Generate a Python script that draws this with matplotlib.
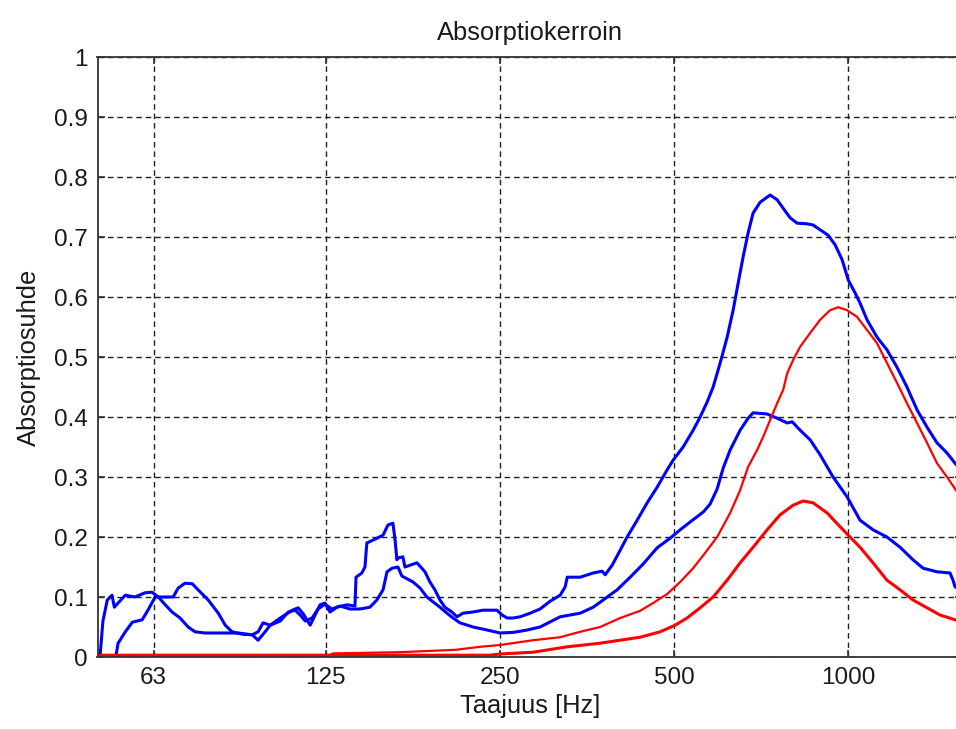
#!/usr/bin/env python

import matplotlib
matplotlib.use('Agg')
import matplotlib.pyplot as plt
from matplotlib.ticker import FixedLocator, NullLocator

# Absorption ratio per frequency, two measured (blue) and two computed (red) curves
freq_b1 = [50.9, 51.5, 52.4, 53.4, 53.9, 54.7, 56.3, 58.5, 60.9, 62.6, 64.2,
           66.0, 67.8, 70.0, 72.3, 74.3, 77.3, 82.8, 88.2, 93.3, 95.5, 98.2,
           100.2, 104.3, 109.4, 112.0, 114.3, 117.5, 119.8, 122.2, 124.6,
           127.1, 130.7, 136.0, 140.4, 141.0, 144.3, 146.1, 147.2, 153.3,
           157.0, 160.1, 163.3, 164.7, 165.9, 166.6, 169.9, 171.3, 179.7,
           185.5, 189.2, 193.0, 196.9, 200.8, 206.5, 210.7, 215.8, 224.6,
           233.7, 247.1, 252.1, 257.3, 263.5, 270.9, 281.9, 293.3, 305.3,
           317.7, 324.1, 326.7, 344.0, 362.3, 375.5, 380.0, 390.7, 403.4,
           414.7, 431.6, 449.1, 467.3, 486.3, 498.0, 518.2, 539.3, 554.5,
           570.2, 584.0, 600.5, 617.4, 632.3, 645.0, 658.0, 671.2, 684.7,
           704.1, 732.6, 753.4, 771.5, 793.3, 815.7, 848.8, 869.3, 893.9,
           922.8, 948.8, 975.7, 1000, 1027, 1047.7, 1077.3, 1121, 1166.2,
           1213.6, 1262.8, 1314.4, 1367.8, 1423, 1481, 1528.9, 1572]
alpha_b1 = [0.0, 0.06, 0.095, 0.103, 0.083, 0.09, 0.103, 0.1, 0.107, 0.108,
            0.1, 0.087, 0.075, 0.065, 0.05, 0.042, 0.04, 0.04, 0.04, 0.037,
            0.028, 0.042, 0.053, 0.065, 0.078, 0.082, 0.072, 0.053, 0.07,
            0.087, 0.09, 0.075, 0.083, 0.087, 0.085, 0.133, 0.14, 0.15, 0.19,
            0.198, 0.203, 0.22, 0.223, 0.195, 0.162, 0.165, 0.167, 0.15,
            0.157, 0.142, 0.125, 0.112, 0.095, 0.083, 0.075, 0.067, 0.073,
            0.075, 0.078, 0.078, 0.07, 0.065, 0.065, 0.067, 0.073, 0.08,
            0.093, 0.103, 0.117, 0.133, 0.133, 0.14, 0.143, 0.137, 0.153,
            0.178, 0.2, 0.228, 0.257, 0.283, 0.312, 0.328, 0.35, 0.378, 0.4,
            0.425, 0.45, 0.49, 0.533, 0.578, 0.623, 0.667, 0.707, 0.74,
            0.758, 0.77, 0.762, 0.748, 0.732, 0.723, 0.722, 0.72, 0.712,
            0.703, 0.687, 0.662, 0.628, 0.607, 0.59, 0.562, 0.533, 0.512,
            0.483, 0.45, 0.412, 0.383, 0.357, 0.34, 0.323, 0.31]

freq_b2 = [54.2, 54.7, 56.3, 57.9, 60.2, 61.6, 63.4, 65.2, 68.1, 69.5, 71.4,
           73.5, 75.2, 78.3, 81.5, 83.8, 86.1, 89.6, 93.3, 95.5, 97.4, 100.2,
           104.3, 107.7, 110.7, 112.9, 115.2, 118.4, 121.2, 124.6, 128.1,
           132.3, 137.6, 143.2, 149.0, 153.2, 157.0, 159.5, 162.7, 166.6,
           169.2, 176.9, 181.9, 186.9, 196.9, 202.5, 207.4, 213.2, 224.6,
           237.5, 250.1, 263.5, 278.6, 293.3, 317.7, 344.0, 362.3, 377.0,
           398.6, 419.7, 442.0, 467.3, 492.1, 512.1, 532.9, 562.0, 577.0,
           593.3, 607.8, 624.8, 650.2, 671.2, 684.7, 723.9, 753.4, 784.2,
           800.0, 825.5, 859.0, 893.9, 941.2, 994.9, 1047.7, 1103.3, 1166.2,
           1228.4, 1293.6, 1346.2, 1423, 1498.9, 1516.9, 1528.9, 1572]
alpha_b2 = [0.0, 0.023, 0.042, 0.058, 0.062, 0.078, 0.1, 0.1, 0.1, 0.115,
            0.123, 0.122, 0.112, 0.095, 0.073, 0.053, 0.042, 0.038, 0.037,
            0.042, 0.057, 0.053, 0.06, 0.075, 0.078, 0.07, 0.06, 0.065, 0.08,
            0.088, 0.08, 0.085, 0.08, 0.08, 0.083, 0.095, 0.112, 0.142,
            0.148, 0.15, 0.135, 0.125, 0.115, 0.1, 0.083, 0.073, 0.065,
            0.057, 0.05, 0.045, 0.04, 0.041, 0.045, 0.05, 0.067, 0.073,
            0.083, 0.095, 0.112, 0.133, 0.155, 0.182, 0.198, 0.212, 0.225,
            0.242, 0.255, 0.28, 0.315, 0.345, 0.378, 0.398, 0.407, 0.405,
            0.398, 0.39, 0.392, 0.378, 0.362, 0.337, 0.3, 0.267, 0.228,
            0.212, 0.2, 0.183, 0.162, 0.148, 0.142, 0.14, 0.128, 0.117, 0.11]

freq_r1 = [50.4, 127.1, 128.6, 167.9, 209.8, 230.9, 250.1, 285.3, 317.7,
           344.0, 372.5, 403.4, 436.8, 460.0, 486.3, 512.1, 539.3, 562.0,
           593.3, 624.8, 650.2, 671.2, 695.6, 712.6, 732.6, 753.4, 771.5,
           784.2, 802.8, 825.5, 859.0, 893.9, 930.2, 960.3, 994.9, 1035,
           1077.3, 1121, 1166.2, 1213.6, 1262.8, 1314.4, 1367.8, 1423, 1481,
           1534.9, 1572]
alpha_r1 = [0.003, 0.003, 0.006, 0.008, 0.012, 0.017, 0.02, 0.028, 0.033,
            0.042, 0.05, 0.065, 0.077, 0.09, 0.105, 0.125, 0.148, 0.17, 0.2,
            0.24, 0.278, 0.317, 0.345, 0.367, 0.395, 0.423, 0.445, 0.473,
            0.495, 0.517, 0.54, 0.562, 0.578, 0.583, 0.578, 0.567, 0.545,
            0.523, 0.49, 0.457, 0.423, 0.39, 0.357, 0.323, 0.3, 0.278, 0.265]

freq_r2 = [50.4, 240.3, 250.1, 285.3, 326.7, 372.5, 403.4, 436.8, 472.9,
           502.0, 526.4, 554.5, 584.0, 617.4, 650.2, 684.7, 723.9, 762.4,
           802.8, 835.4, 869.3, 919.2, 968.0, 1006.8, 1047.7, 1103.3, 1166.2,
           1228.4, 1293.6, 1367.8, 1440.4, 1528.9, 1572]
alpha_r2 = [0.003, 0.003, 0.005, 0.008, 0.017, 0.023, 0.028, 0.033, 0.042,
            0.053, 0.065, 0.082, 0.1, 0.128, 0.157, 0.183, 0.212, 0.237,
            0.253, 0.26, 0.257, 0.24, 0.217, 0.2, 0.183, 0.157, 0.128, 0.112,
            0.095, 0.082, 0.07, 0.062, 0.058]

band_ticks = [63, 125, 250, 500, 1000]
band_labels = ['63', '125', '250', '500', '1000']
y_ticks = [0, 0.1, 0.2, 0.3, 0.4, 0.5, 0.6, 0.7, 0.8, 0.9, 1.0]
y_labels = ['0', '0.1', '0.2', '0.3', '0.4', '0.5', '0.6', '0.7', '0.8', '0.9', '1']


def draw():
    plt.rcParams['font.family'] = ['Liberation Sans', 'DejaVu Sans']
    txt = '#1a1a1a'

    fig = plt.figure(figsize=(9.56, 7.29), dpi=100)
    fig.patch.set_facecolor('white')
    # axes run past the right edge of the canvas
    ax = fig.add_axes([97.5 / 956, 72 / 729, (962 - 97.5) / 956, 600 / 729])

    ax.plot(freq_b1, alpha_b1, color='#0000ff', lw=2.2)
    ax.plot(freq_b2, alpha_b2, color='#0000ff', lw=2.2)
    ax.plot(freq_r1, alpha_r1, color='#ff0000', lw=1.6)
    ax.plot(freq_r2, alpha_r2, color='#ff0000', lw=2.2)

    ax.set_xscale('log')
    ax.set_xlim(50.4, 1572)
    ax.set_ylim(0, 1)
    ax.xaxis.set_major_locator(FixedLocator(band_ticks))
    ax.xaxis.set_minor_locator(NullLocator())
    ax.set_xticklabels(band_labels)
    ax.set_yticks(y_ticks)
    ax.set_yticklabels(y_labels)

    ax.grid(True, color='#222222', lw=1.0, linestyle=(0, (4, 2.8)))
    ax.tick_params(direction='in', top=True, right=True, length=5,
                   width=1.2, color='#333333', labelsize=17.5,
                   labelcolor=txt)
    ax.tick_params(axis='x', pad=7)
    ax.tick_params(axis='y', pad=7)
    for sp in ax.spines.values():
        sp.set_color('#333333')
        sp.set_linewidth(1.3)

    ax.set_title('Absorptiokerroin', fontsize=18.4, color=txt, pad=12)
    ax.set_xlabel('Taajuus [Hz]', fontsize=18.4, color=txt, labelpad=4)
    ax.set_ylabel('Absorptiosuhde', fontsize=18.4, color=txt, labelpad=9)

    fig.savefig('out.png', dpi=100, facecolor='white')


def main():
    draw()


if __name__ == '__main__':
    main()
